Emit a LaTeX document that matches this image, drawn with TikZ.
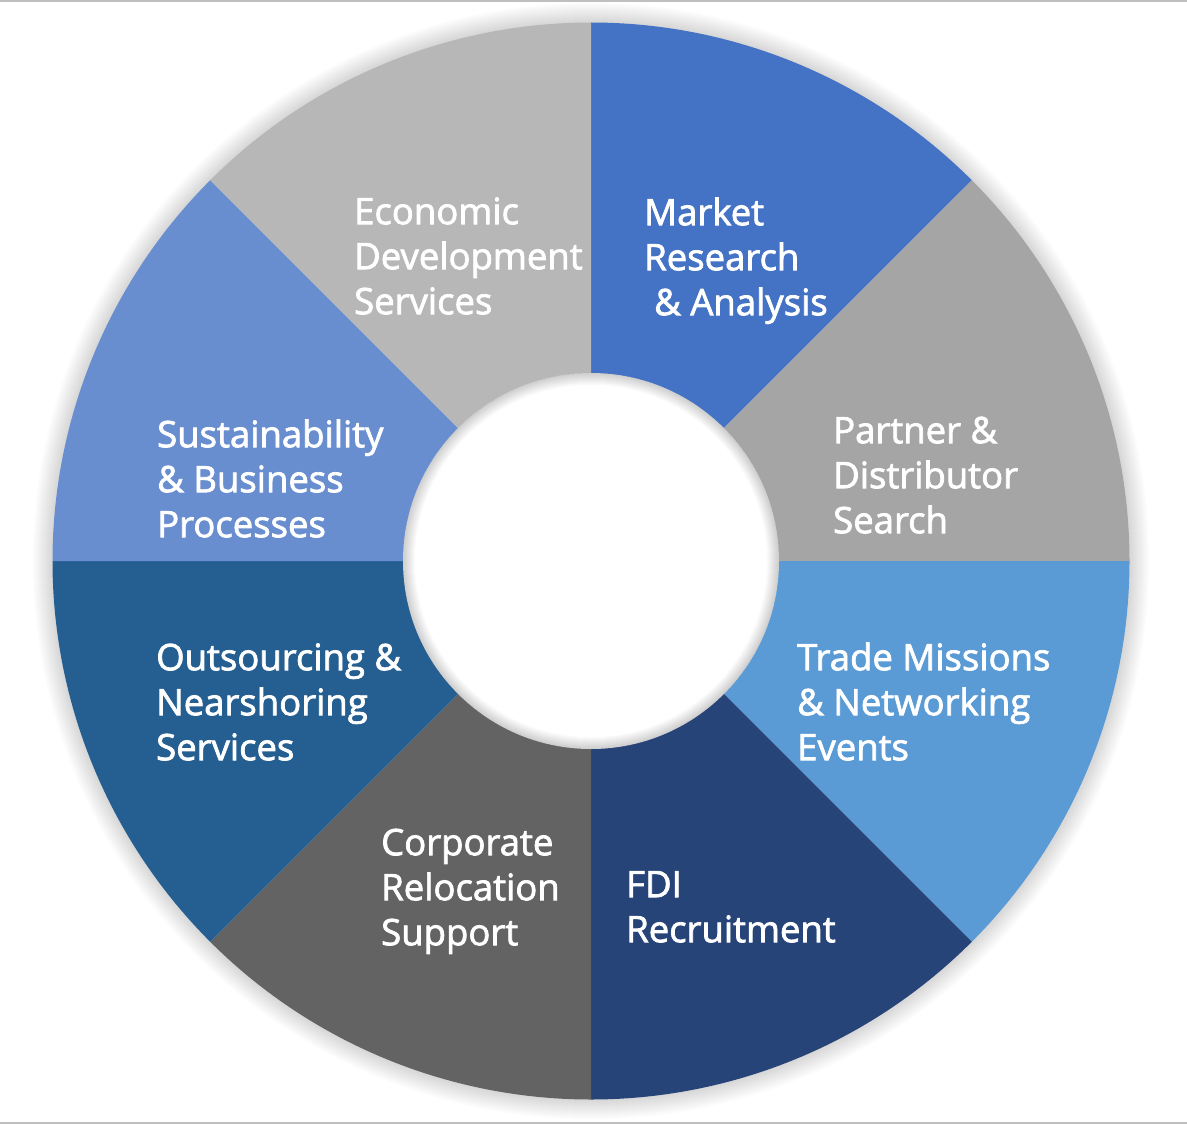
\documentclass[tikz,border=0pt]{standalone}
\usepackage{fontspec}
\setmainfont{Open Sans}
\newfontfamily\lblfont{Open Sans}[FakeBold=2]
\usetikzlibrary{positioning}

\definecolor{mktblue}{HTML}{4472C4}
\definecolor{partgray}{HTML}{A5A5A5}
\definecolor{tradeblue}{HTML}{5B9BD5}
\definecolor{fdiblue}{HTML}{264478}
\definecolor{corpgray}{HTML}{636363}
\definecolor{outblue}{HTML}{255E91}
\definecolor{sustblue}{HTML}{698ED0}
\definecolor{econgray}{HTML}{B7B7B7}
\definecolor{rulegray}{HTML}{BFBFBF}

\begin{document}
\begin{tikzpicture}[x=1pt,y=-1pt,
    seglabel/.style={anchor=north west, align=left, text=white, inner sep=0pt,
      font=\lblfont\fontsize{36.5}{45}\selectfont}]
  \useasboundingbox (0,0) rectangle (1187,1124);
  \fill[rulegray] (0,0) rectangle (1187,2);
  \fill[rulegray] (0,1122) rectangle (1187,1124);

  \begin{scope}[shift={(591,561)}, yscale=-1]
    % soft glow round the ring
    \foreach \w in {2,4,...,40}
      \draw[black, opacity=0.007, line width=\w pt] (0,0) circle (538.5);
    \foreach \a/\c in {45/mktblue, 0/partgray, -45/tradeblue, -90/fdiblue,
                       -135/corpgray, 180/outblue, 135/sustblue, 90/econgray}
      \fill[\c] (0,0) -- (\a:538.5) arc (\a:\a+45:538.5) -- cycle;
    \fill[white] (0,0) circle (188);
    % inner shadow
    \begin{scope}
      \clip (0,0) circle (188);
      \foreach \w in {2,4,...,24}
        \draw[black, opacity=0.014, line width=\w pt] (0,0) circle (188);
    \end{scope}
  \end{scope}

  \node[seglabel] (econ) at (354,224-31.5) {\strut Economic\\Development\\Services};
  \node[seglabel] (market) at (644,225-31.5) {\strut Market\\Research\\\hspace{10pt}\& Analysis};
  \node[seglabel] (partner) at (833,443-31.5) {\strut Partner \&\\Distributor\\Search};
  \node[seglabel] (trade) at (797,670-31.5) {\strut Trade Missions\\\& Networking\\Events};
  \node[seglabel] (fdi) at (626,897-31.5) {\strut FDI\\Recruitment};
  \node[seglabel] (corp) at (381,855-31.5) {\strut Corporate\\Relocation\\Support};
  \node[seglabel] (outs) at (156,670-31.5) {\strut Outsourcing \&\\Nearshoring\\Services};
  \node[seglabel] (sust) at (157,447-31.5) {\strut Sustainability\\\& Business\\Processes};
\end{tikzpicture}
\end{document}
